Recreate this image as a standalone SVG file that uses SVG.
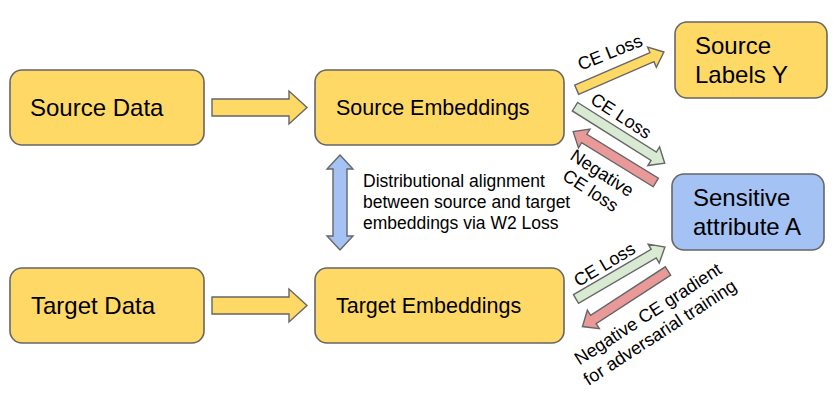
<svg xmlns="http://www.w3.org/2000/svg" width="834" height="401" viewBox="0 0 834 401">
<style>
.box{stroke:#666666;stroke-width:1.6}
.y{fill:#ffd966}
.b{fill:#a4c2f4}
.g{fill:#d9ead3}
.r{fill:#ea9999}
.arr{stroke:#666666;stroke-width:1.4;stroke-linejoin:miter}
.t{font-family:"Liberation Sans",Arial,sans-serif;fill:#000}
.big{font-size:24px}
.mid{font-size:21.5px}
.sm{font-size:17.5px}
.rl{font-size:18px}
</style>
<rect width="834" height="401" fill="#ffffff"/>
<g id="source-data"><rect class="box y" x="10" y="70" width="194" height="75" rx="12"/><text class="t big" x="30" y="116">Source Data</text></g>
<g id="target-data"><rect class="box y" x="10" y="268" width="194" height="75" rx="12"/><text class="t big" x="31" y="314">Target Data</text></g>
<g id="source-embeddings"><rect class="box y" x="315" y="70" width="249" height="75" rx="12"/><text class="t mid" x="336" y="115">Source Embeddings</text></g>
<g id="target-embeddings"><rect class="box y" x="315" y="268" width="249" height="75" rx="12"/><text class="t mid" x="336" y="313">Target Embeddings</text></g>
<g id="source-labels"><rect class="box y" x="675" y="22" width="152" height="76" rx="12"/><text class="t big"><tspan x="695" y="54">Source</tspan><tspan x="695" y="83">Labels Y</tspan></text></g>
<g id="sensitive-attribute"><rect class="box b" x="672" y="174" width="152" height="76" rx="12"/><text class="t big"><tspan x="693" y="206">Sensitive</tspan><tspan x="693" y="235">attribute A</tspan></text></g>
<g id="connectors">
<path class="arr y" d="M212,99 H289 V91 L307,107.5 L289,124 V116 H212 Z"/>
<path class="arr y" d="M212,297 H289 V289 L307,305.5 L289,322 V314 H212 Z"/>
<path class="arr b" d="M340,155 L353,169 H347 V236 H353 L340,250 L327,236 H333 V169 H327 Z"/>
<path class="arr y" transform="translate(576.7,89.7) rotate(-23.4)" d="M0,-5 H82 V-11 L95,0 L82,11 V5 H0 Z"/>
<path class="arr g" transform="translate(575,106.7) rotate(32.2)" d="M0,-5 H93 V-11 L106,0 L93,11 V5 H0 Z"/>
<path class="arr r" transform="translate(655.8,182.5) rotate(211.6)" d="M0,-5 H84 V-11 L97,0 L84,11 V5 H0 Z"/>
<path class="arr g" transform="translate(576,299) rotate(-30.3)" d="M0,-5 H90 V-11 L103,0 L90,11 V5 H0 Z"/>
<path class="arr r" transform="translate(668,271) rotate(147)" d="M0,-5 H89 V-11 L102,0 L89,11 V5 H0 Z"/>
</g>
<g id="labels">
<text class="t sm"><tspan x="363" y="187">Distributional alignment</tspan><tspan x="363" y="208">between source and target</tspan><tspan x="363" y="229">embeddings via W2 Loss</tspan></text>
<text class="t rl" text-anchor="middle" transform="translate(610,52.5) rotate(-22)" y="6">CE Loss</text>
<text class="t rl" text-anchor="middle" transform="translate(621,116) rotate(33)" y="6">CE Loss</text>
<text class="t rl" text-anchor="middle" transform="translate(602,173) rotate(33)"><tspan x="0" y="6">Negative</tspan><tspan x="0" y="27">CE loss</tspan></text>
<text class="t rl" text-anchor="middle" transform="translate(604.5,264.5) rotate(-31)" y="6">CE Loss</text>
<text class="t rl" text-anchor="middle" transform="translate(648,314) rotate(-33)"><tspan x="0" y="6">Negative CE gradient</tspan><tspan x="0" y="28">for adversarial training</tspan></text>
</g>
</svg>
